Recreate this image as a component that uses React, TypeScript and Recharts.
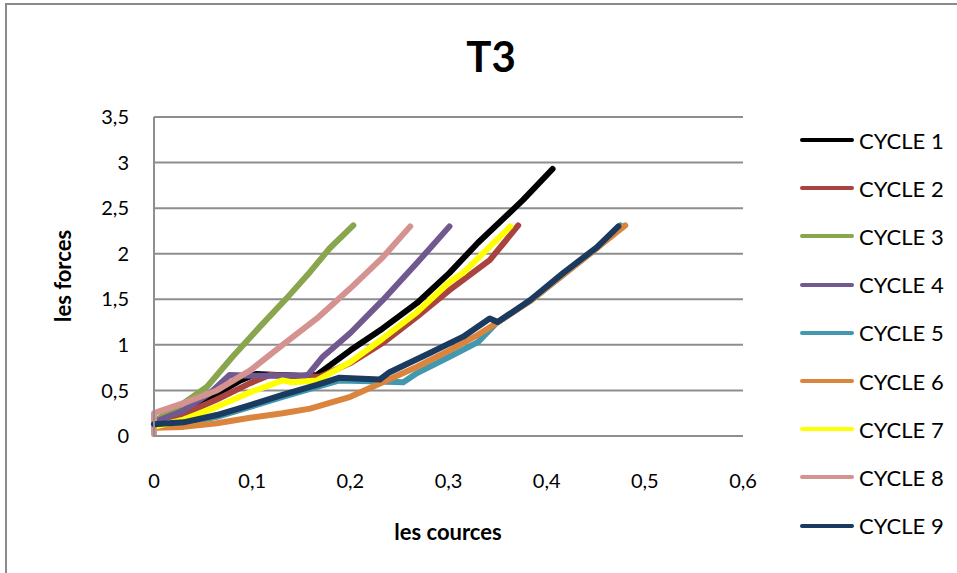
import { LineChart, Line, XAxis, YAxis, CartesianGrid } from 'recharts';

// course (x) / force (y) pairs
const cycle1 = [[0, 0.12], [0.026, 0.26], [0.054, 0.4], [0.088, 0.61], [0.104, 0.68], [0.125, 0.67], [0.15, 0.66], [0.166, 0.67], [0.2, 0.94], [0.233, 1.18], [0.268, 1.46], [0.301, 1.79], [0.33, 2.12], [0.376, 2.59], [0.406, 2.93]];
const cycle2 = [[0, 0.12], [0.03, 0.24], [0.064, 0.4], [0.098, 0.58], [0.118, 0.67], [0.14, 0.66], [0.169, 0.65], [0.2, 0.8], [0.233, 1.02], [0.268, 1.31], [0.301, 1.6], [0.342, 1.93], [0.371, 2.31]];
const cycle3 = [[0, 0.05], [0.003, 0.18], [0.03, 0.36], [0.054, 0.54], [0.08, 0.87], [0.108, 1.2], [0.135, 1.51], [0.159, 1.8], [0.179, 2.06], [0.203, 2.31]];
const cycle4 = [[0, 0.15], [0.03, 0.28], [0.057, 0.47], [0.077, 0.67], [0.1, 0.66], [0.13, 0.66], [0.156, 0.66], [0.172, 0.87], [0.2, 1.13], [0.233, 1.49], [0.268, 1.9], [0.301, 2.3]];
const cycle5 = [[0, 0.12], [0.03, 0.14], [0.064, 0.21], [0.098, 0.32], [0.131, 0.43], [0.166, 0.54], [0.189, 0.61], [0.22, 0.6], [0.254, 0.59], [0.268, 0.69], [0.301, 0.87], [0.33, 1.03], [0.349, 1.24], [0.383, 1.48], [0.417, 1.77], [0.451, 2.06], [0.475, 2.31]];
const cycle6 = [[0, 0.09], [0.03, 0.1], [0.064, 0.14], [0.098, 0.2], [0.131, 0.25], [0.159, 0.3], [0.2, 0.43], [0.233, 0.59], [0.268, 0.76], [0.301, 0.94], [0.33, 1.11], [0.349, 1.24], [0.383, 1.48], [0.417, 1.77], [0.451, 2.06], [0.48, 2.31]];
const cycle7 = [[0, 0.1], [0.03, 0.18], [0.064, 0.32], [0.098, 0.48], [0.131, 0.61], [0.14, 0.59], [0.166, 0.61], [0.2, 0.81], [0.233, 1.07], [0.268, 1.36], [0.301, 1.69], [0.315, 1.79], [0.363, 2.3]];
const cycle8 = [[0, 0.02], [0, 0.25], [0.03, 0.36], [0.064, 0.5], [0.098, 0.72], [0.131, 1.0], [0.166, 1.29], [0.2, 1.62], [0.233, 1.96], [0.261, 2.3]];
const cycle9 = [[0, 0.13], [0.03, 0.15], [0.064, 0.23], [0.098, 0.34], [0.131, 0.45], [0.166, 0.56], [0.189, 0.64], [0.23, 0.62], [0.24, 0.7], [0.281, 0.91], [0.315, 1.09], [0.342, 1.29], [0.35, 1.25], [0.383, 1.49], [0.417, 1.79], [0.451, 2.07], [0.473, 2.3]];

const SERIES = [cycle1, cycle2, cycle3, cycle4, cycle5, cycle6, cycle7, cycle8, cycle9];
const NAMES = ['CYCLE 1', 'CYCLE 2', 'CYCLE 3', 'CYCLE 4', 'CYCLE 5', 'CYCLE 6', 'CYCLE 7', 'CYCLE 8', 'CYCLE 9'];
const COLORS = ['#000000', '#a9433f', '#89a54e', '#71588f', '#4198af', '#db843d', '#ffff00', '#d49290', '#1b3a5f'];

const X_TICKS = [0, 0.1, 0.2, 0.3, 0.4, 0.5, 0.6];
const Y_TICKS = [0, 0.5, 1, 1.5, 2, 2.5, 3, 3.5];

const FONT = 'Lato, "Open Sans", sans-serif';
const fmt = (v: number) => String(v).replace('.', ',');

export default function App() {
  return (
    <div style={{ position: 'absolute', left: 0, top: 0, width: 957, height: 573, background: '#fff', overflow: 'hidden', fontFamily: FONT }}>
      <div style={{ position: 'absolute', left: 5, top: 3, width: 980, height: 600, borderLeft: '2px solid #8a8a8a', borderTop: '2px solid #8a8a8a' }} />
      <div style={{ position: 'absolute', left: 391, width: 200, top: 28, textAlign: 'center', fontSize: 42, fontWeight: 700, lineHeight: '56px' }}>T3</div>
      <LineChart
        width={957}
        height={573}
        margin={{ top: 117, right: 214, bottom: 77, left: 94 }}
        style={{ position: 'absolute', left: 0, top: 0 }}
      >
        <CartesianGrid vertical={false} stroke="#8e8e8e" strokeWidth={2} />
        <XAxis
          type="number"
          dataKey="x"
          domain={[0, 0.6]}
          ticks={X_TICKS}
          tickFormatter={fmt}
          height={60}
          tickLine={false}
          tickSize={0}
          tickMargin={38}
          axisLine={{ stroke: '#8e8e8e', strokeWidth: 2 }}
          tick={{ fontFamily: FONT, fontSize: 20, fill: '#000' }}
          allowDuplicatedCategory={false}
        />
        <YAxis
          type="number"
          dataKey="y"
          domain={[0, 3.5]}
          ticks={Y_TICKS}
          tickFormatter={fmt}
          width={60}
          tickLine={false}
          tickSize={0}
          tickMargin={25}
          axisLine={{ stroke: '#8e8e8e', strokeWidth: 2 }}
          tick={{ fontFamily: FONT, fontSize: 20, fill: '#000' }}
        />
        {SERIES.map((s, i) => (
          <Line
            key={NAMES[i]}
            name={NAMES[i]}
            data={s.map(([x, y]) => ({ x, y }))}
            dataKey="y"
            type="linear"
            stroke={COLORS[i]}
            strokeWidth={6}
            strokeLinecap="round"
            strokeLinejoin="round"
            dot={false}
            isAnimationActive={false}
          />
        ))}
      </LineChart>
      <div style={{ position: 'absolute', left: 348, width: 200, top: 518, textAlign: 'center', fontSize: 22, fontWeight: 700 }}>les cources</div>
      <div style={{ position: 'absolute', left: 62, top: 276, transform: 'translate(-50%, -50%) rotate(-90deg)', fontSize: 22, fontWeight: 700, whiteSpace: 'nowrap' }}>les forces</div>
      {NAMES.map((n, i) => (
        <div key={n} style={{ position: 'absolute', left: 800, top: 140 + i * 48.2 - 15, height: 30, display: 'flex', alignItems: 'center' }}>
          <div style={{ width: 54, height: 4, borderRadius: 2, background: COLORS[i] }} />
          <span style={{ marginLeft: 5, fontSize: 22, color: '#000', whiteSpace: 'nowrap' }}>{n}</span>
        </div>
      ))}
    </div>
  );
}
